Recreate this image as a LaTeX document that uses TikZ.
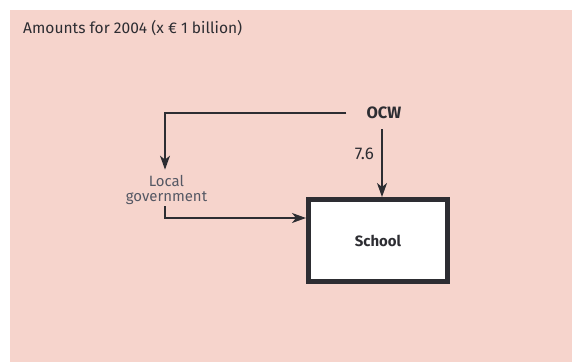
\documentclass[tikz,border=0pt]{standalone}
\usepackage{fontspec}
\setmainfont{Fira Sans}
\usetikzlibrary{arrows.meta}
\definecolor{bgpink}{RGB}{246,212,204}
\definecolor{txt}{RGB}{45,45,50}
\definecolor{lighttxt}{RGB}{85,88,100}
\tikzset{
  conn/.style={draw=txt, line width=1.4bp, -{Stealth[length=14bp,width=10bp,inset=4bp]}},
  lbl/.style={text=txt, inner sep=0pt},
}
\begin{document}
\begin{tikzpicture}[x=1bp,y=-1bp]
\useasboundingbox (0,0) rectangle (572,362);
\fill[bgpink] (10,10) rectangle (572,362);
\node[lbl, anchor=west, font=\fontsize{15.6}{18}\selectfont] (title) at (23,28) {Amounts for 2004 (x € 1 billion)};
\node[lbl, font=\bfseries\fontsize{16.5}{19}\selectfont] (ocw) at (384,113) {OCW};
\node[draw=txt, line width=5bp, fill=white, minimum width=139bp, minimum height=82bp, inner sep=0pt] (school) at (378,240.5) {};
\node[lbl, font=\bfseries\fontsize{15}{18}\selectfont] (schooltext) at (school.center) {School};
\node[lbl, text=lighttxt, align=center, font=\fontsize{15}{16}\selectfont] (local) at (166.5,190) {Local\\government};
\node[lbl, anchor=east, font=\fontsize{17}{20}\selectfont] (val) at (374,153.5) {7.6};
\draw[conn, shorten <=10bp] ([xshift=-2bp]ocw.south) -- ([xshift=-2bp]ocw.south |- school.north);
\draw[conn, shorten <=20bp, shorten >=5bp] (ocw.west) -| ([xshift=-1.5bp]local.north);
\draw[conn, shorten <=1bp] ([xshift=-1.5bp]local.south) |- ([yshift=22.5bp]school.west);
\end{tikzpicture}
\end{document}
